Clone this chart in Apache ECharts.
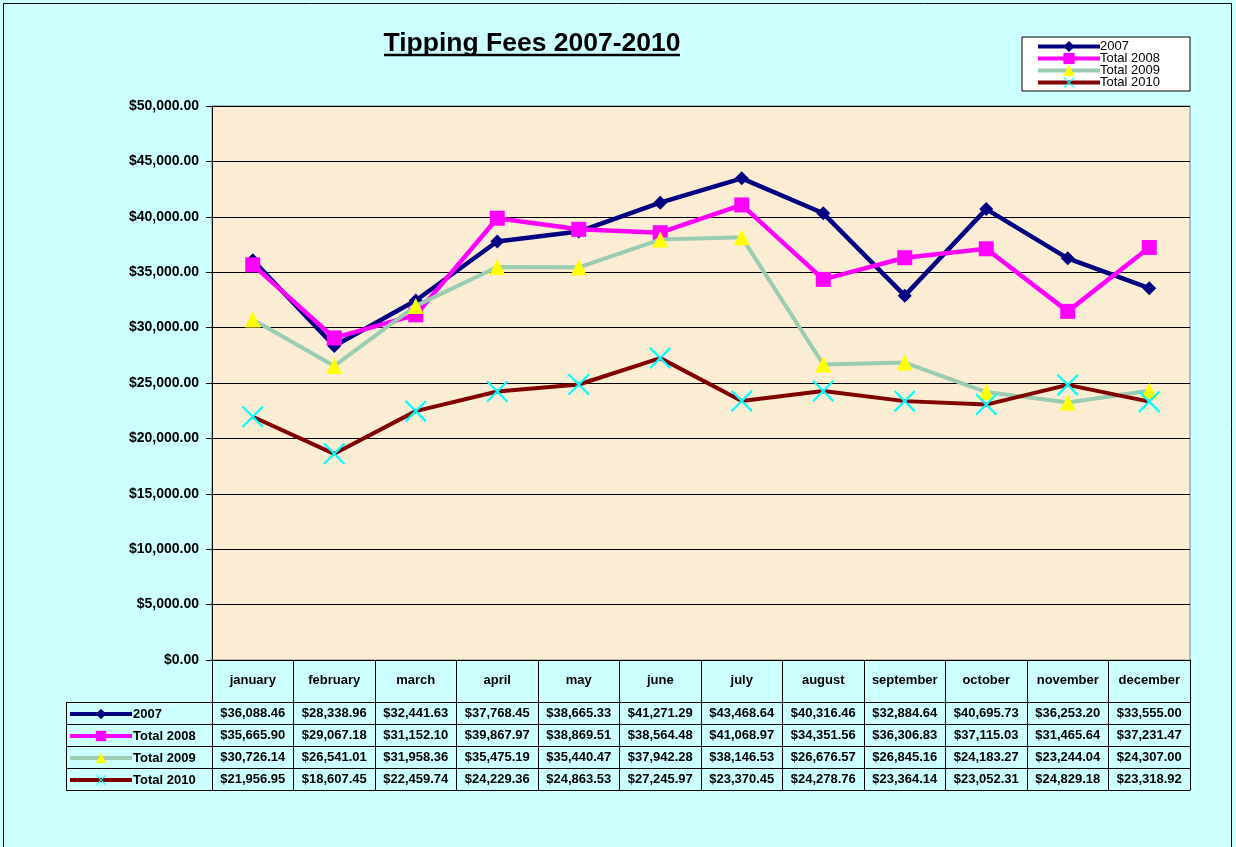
<!DOCTYPE html>
<html>
<head>
<meta charset="utf-8">
<title>Tipping Fees 2007-2010</title>
<script src="https://cdn.jsdelivr.net/npm/echarts@6/dist/echarts.min.js"></script>
<style>
  html, body { margin: 0; padding: 0; background: #ccffff; }
  #chart { width: 1236px; height: 847px; }
</style>
</head>
<body>
<div id="chart"></div>
<script>
// data
const months = ['january', 'february', 'march', 'april', 'may', 'june',
  'july', 'august', 'september', 'october', 'november', 'december'];
const seriesNames = ['2007', 'Total 2008', 'Total 2009', 'Total 2010'];
const fees2007 = [36088.46, 28338.96, 32441.63, 37768.45, 38665.33, 41271.29,
  43468.64, 40316.46, 32884.64, 40695.73, 36253.20, 33555.00];
const fees2008 = [35665.90, 29067.18, 31152.10, 39867.97, 38869.51, 38564.48,
  41068.97, 34351.56, 36306.83, 37115.03, 31465.64, 37231.47];
const fees2009 = [30726.14, 26541.01, 31958.36, 35475.19, 35440.47, 37942.28,
  38146.53, 26676.57, 26845.16, 24183.27, 23244.04, 24307.00];
const fees2010 = [21956.95, 18607.45, 22459.74, 24229.36, 24863.53, 27245.97,
  23370.45, 24278.76, 23364.14, 23052.31, 24829.18, 23318.92];
const yTicks = [0, 5000, 10000, 15000, 20000, 25000, 30000, 35000, 40000, 45000, 50000];

const allValues = [fees2007, fees2008, fees2009, fees2010];

function money(v) {
  return '$' + v.toLocaleString('en-US', { minimumFractionDigits: 2, maximumFractionDigits: 2 });
}

const font = '"Liberation Sans", Arial, sans-serif';
const cellFont = { fontFamily: font, fontWeight: 'bold', fontSize: 13, color: '#000' };

// thin x shaped marker for 2010
const crossPath = 'path://M0,0.7L0.7,0L10,9.3L9.3,10Z M9.3,0L10,0.7L0.7,10L0,9.3Z';

const looks = [
  { line: '#000080', width: 4.5, symbol: 'diamond', size: 14, mark: '#000080' },
  { line: '#ff00ff', width: 4.5, symbol: 'rect', size: 15, mark: '#ff00ff' },
  { line: '#99ccb0', width: 4, symbol: 'triangle', size: 16, mark: '#ffff00' },
  { line: '#800000', width: 4, symbol: crossPath, size: 22, mark: '#00ffff' },
];

const gridLeft = 212, gridRight = 46, gridTop = 106, gridBottom = 187;
const rowH = 22, headH = 42;

// one category axis per table row: line on top, ticks make the cell walls
const tableAxes = allValues.map((vals, i) => ({
  type: 'category',
  data: months,
  position: 'bottom',
  offset: headH + i * rowH,
  axisLine: { show: true, lineStyle: { color: '#000', width: 1 } },
  axisTick: { show: true, interval: 0, length: rowH, lineStyle: { color: '#000' } },
  axisLabel: {
    interval: 0, margin: 5, hideOverlap: false,
    formatter: (v, idx) => money(vals[idx]),
    ...cellFont,
  },
  splitLine: { show: false },
}));
// closing line under the last row
tableAxes.push({
  type: 'category', data: months, position: 'bottom',
  offset: headH + 4 * rowH,
  axisLine: { show: true, lineStyle: { color: '#000' } },
  axisTick: { show: false }, axisLabel: { show: false },
});

const option = {
  backgroundColor: '#ccffff',
  animation: false,
  grid: {
    left: gridLeft, right: gridRight, top: gridTop, bottom: gridBottom,
    show: true, backgroundColor: '#fbedd3', borderColor: '#808080', borderWidth: 1,
  },
  legend: [
    {
      data: seriesNames,
      orient: 'vertical',
      right: 46, top: 37,
      itemWidth: 62, itemHeight: 14, itemGap: -1,
      padding: [3, 30, 2, 14],
      backgroundColor: '#fff', borderColor: '#000', borderWidth: 1,
      lineStyle: { width: 4 },
      textStyle: { fontFamily: font, fontSize: 13, lineHeight: 11, color: '#000', padding: [0, 0, 0, -5] },
      selectedMode: false,
    },
    {
      // legend keys inside the data table
      data: seriesNames,
      orient: 'vertical',
      left: 68, top: 706,
      itemWidth: 62, itemHeight: 13, itemGap: 6,
      padding: 0,
      lineStyle: { width: 4 },
      textStyle: { ...cellFont, lineHeight: 11, padding: [5, 0, 0, -4] },
      selectedMode: false,
    },
  ],
  xAxis: [
    {
      type: 'category',
      data: months,
      axisLine: { lineStyle: { color: '#000', width: 1 } },
      axisTick: { show: true, interval: 0, length: headH, lineStyle: { color: '#000' } },
      axisLabel: { interval: 0, margin: 14, ...cellFont },
    },
    ...tableAxes,
  ],
  yAxis: {
    type: 'value',
    min: yTicks[0], max: yTicks[yTicks.length - 1], interval: 5000,
    axisLine: { show: true, lineStyle: { color: '#000' } },
    axisTick: { show: true, length: 6, lineStyle: { color: '#000' } },
    axisLabel: {
      margin: 13, formatter: (v) => money(v),
      fontFamily: font, fontWeight: 'bold', fontSize: 14, color: '#000',
    },
    splitLine: { show: true, lineStyle: { color: '#000', width: 1 } },
  },
  series: allValues.map((vals, i) => ({
    name: seriesNames[i],
    type: 'line',
    data: vals,
    symbol: looks[i].symbol,
    symbolSize: looks[i].size,
    lineStyle: { color: looks[i].line, width: looks[i].width },
    itemStyle: { color: looks[i].mark, borderWidth: 0 },
    z: 2 + i,
  })),
  graphic: [
    // outer frame of the chart
    { type: 'rect', shape: { x: 3.5, y: 3.5, width: 1228, height: 860 },
      style: { fill: null, stroke: '#000', lineWidth: 1 }, silent: true },
    // title, underlined
    { type: 'text', x: 532, y: 44, scaleX: 1.06,
      style: { text: 'Tipping Fees 2007-2010', align: 'center', verticalAlign: 'middle',
        font: 'bold 25px ' + font, fill: '#000' } },
    { type: 'line', shape: { x1: 384, y1: 55, x2: 680, y2: 55 },
      style: { stroke: '#000', lineWidth: 2.5 } },
    // left column of the data table
    { type: 'line', shape: { x1: 66.5, y1: 702, x2: 66.5, y2: 790 }, style: { stroke: '#000' } },
    ...[0, 1, 2, 3, 4].map((r) => ({
      type: 'line',
      shape: { x1: 66, y1: 702.5 + r * rowH, x2: 212, y2: 702.5 + r * rowH },
      style: { stroke: '#000' },
    })),
  ],
};

const chart = echarts.init(document.getElementById('chart'));
chart.setOption(option);
</script>
</body>
</html>
